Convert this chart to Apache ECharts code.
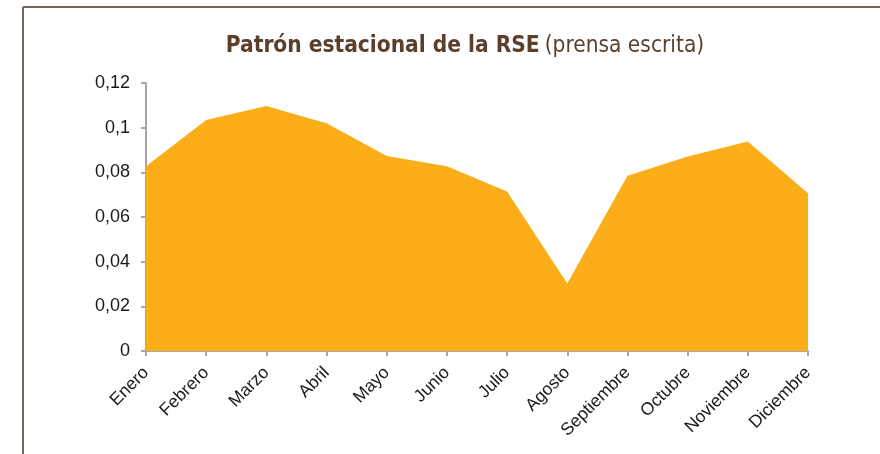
<!DOCTYPE html>
<html>
<head>
<meta charset="utf-8">
<script src="https://cdn.jsdelivr.net/npm/echarts@6/dist/echarts.min.js"></script>
<style>
  html, body { margin: 0; padding: 0; background: #fff; }
  #chart { width: 880px; height: 454px; }
</style>
</head>
<body>
<div id="chart"></div>
<script>
var meses = ['Enero', 'Febrero', 'Marzo', 'Abril', 'Mayo', 'Junio', 'Julio',
  'Agosto', 'Septiembre', 'Octubre', 'Noviembre', 'Diciembre'];
var patron = [0.0827, 0.1034, 0.1097, 0.1020, 0.0873, 0.0827, 0.0714,
  0.0302, 0.0785, 0.0871, 0.0938, 0.0706];

var chart = echarts.init(document.getElementById('chart'));

var titleFont = '"DejaVu Sans Condensed", "Liberation Sans", sans-serif';

var option = {
  animation: false,
  title: {
    text: '{b|Patrón estacional de la RSE} {n|(prensa escrita)}',
    left: 460,
    textAlign: 'center',
    top: 30,
    textStyle: {
      fontWeight: 'normal',
      rich: {
        b: { fontFamily: titleFont, fontWeight: 'bold', fontSize: 22.5, color: '#5b3f2b' },
        n: { fontFamily: titleFont, fontWeight: 'normal', fontSize: 22.5, color: '#5b3f2b' }
      }
    }
  },
  graphic: [
    { type: 'line', shape: { x1: 23, y1: 7, x2: 880, y2: 7 }, style: { stroke: '#75665a', lineWidth: 2 } },
    { type: 'line', shape: { x1: 23, y1: 7, x2: 23, y2: 454 }, style: { stroke: '#75665a', lineWidth: 2 } }
  ],
  grid: { left: 146, right: 72, top: 83, bottom: 103 },
  xAxis: {
    type: 'category',
    data: meses,
    boundaryGap: false,
    axisLine: { lineStyle: { color: '#a6a6a6', width: 2 } },
    axisTick: { alignWithLabel: true, length: 5, lineStyle: { color: '#a6a6a6', width: 2 } },
    axisLabel: {
      rotate: 45, interval: 0, margin: 19,
      fontFamily: 'Liberation Sans', fontSize: 17.5, color: '#1a1a1a'
    }
  },
  yAxis: {
    type: 'value',
    min: 0, max: 0.12, interval: 0.02,
    splitLine: { show: false },
    axisLine: { show: true, lineStyle: { color: '#a6a6a6', width: 2 } },
    axisTick: { show: true, length: 5, lineStyle: { color: '#a6a6a6', width: 2 } },
    axisLabel: {
      margin: 16,
      fontFamily: 'Liberation Sans', fontSize: 18, color: '#1a1a1a',
      formatter: function (v) {
        return String(Math.round(v * 100) / 100).replace('.', ',');
      }
    }
  },
  series: [{
    type: 'line',
    data: patron,
    symbol: 'none',
    lineStyle: { width: 0 },
    areaStyle: { color: '#fbae1a', opacity: 1 }
  }]
};

chart.setOption(option);
</script>
</body>
</html>
